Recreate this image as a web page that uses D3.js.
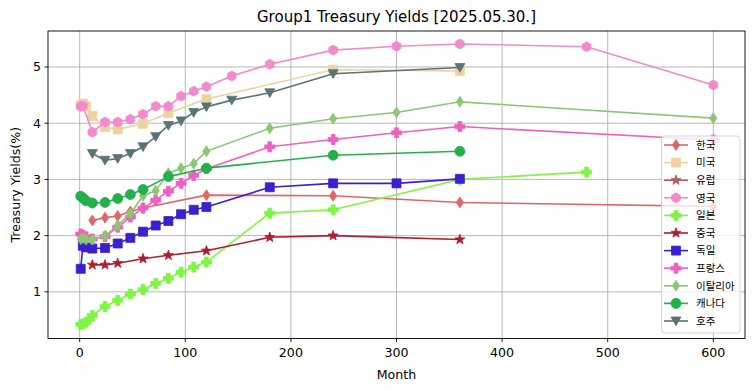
<!DOCTYPE html>
<html><head><meta charset="utf-8">
<script src="https://cdn.jsdelivr.net/npm/d3@7"></script>
<style>
body{margin:0;background:#fff}
svg{display:block}
text{font-family:"DejaVu Sans","Noto Sans CJK KR",sans-serif;fill:#000}
</style>
</head><body>
<svg id="c" width="755" height="391"></svg>
<script>
const titleText = "Group1 Treasury Yields [2025.05.30.]";
const xLabel = "Month";
const yLabel = "Treasury Yields(%)";
const xTicks = [0,100,200,300,400,500,600];
const yTicks = [1,2,3,4,5];

const seriesNames = ["한국","미국","유럽","영국","일본","중국","독일","프랑스","이탈리아","캐나다","호주"];

const krMonths = [12,24,36,48,60,120,240,360,600];
const krYields = [2.27,2.32,2.35,2.43,2.49,2.72,2.71,2.59,2.52];

const usMonths = [1,3,6,12,24,36,60,84,120,240,360];
const usYields = [4.32,4.35,4.30,4.13,3.93,3.89,3.99,4.18,4.43,4.95,4.93];

const euMonths = [];
const euYields = [];

const ukMonths = [1,3,12,24,36,48,60,72,84,96,108,120,144,180,240,300,360,480,600];
const ukYields = [4.30,4.31,3.84,4.02,4.02,4.07,4.16,4.30,4.30,4.48,4.57,4.65,4.84,5.05,5.30,5.37,5.41,5.36,4.68];

const jpMonths = [1,3,6,9,12,24,36,48,60,72,84,96,108,120,180,240,360,480];
const jpYields = [0.42,0.43,0.46,0.51,0.58,0.74,0.85,0.96,1.04,1.15,1.24,1.35,1.44,1.53,2.40,2.46,3.00,3.13];

const cnMonths = [12,24,36,60,84,120,180,240,360];
const cnYields = [1.48,1.48,1.51,1.59,1.65,1.73,1.97,2.00,1.93];

const deMonths = [1,3,6,12,24,36,48,60,72,84,96,108,120,180,240,300,360];
const deYields = [1.41,1.82,1.79,1.77,1.78,1.86,1.96,2.07,2.18,2.26,2.38,2.46,2.51,2.86,2.93,2.93,3.01];

const frMonths = [1,3,6,12,24,36,48,60,72,84,96,108,120,180,240,300,360,600];
const frYields = [2.03,2.01,1.98,1.94,1.98,2.15,2.33,2.49,2.63,2.79,2.93,3.07,3.19,3.58,3.71,3.83,3.94,3.70];

const itMonths = [1,3,6,12,24,36,48,60,72,84,96,108,120,180,240,300,360,600];
const itYields = [1.94,1.96,1.93,1.93,2.00,2.18,2.39,2.71,2.80,3.11,3.20,3.28,3.50,3.91,4.08,4.19,4.38,4.09];

const caMonths = [1,3,6,12,24,36,48,60,84,120,240,360];
const caYields = [2.70,2.67,2.62,2.58,2.59,2.66,2.73,2.82,3.05,3.20,3.43,3.50];

const auMonths = [12,24,36,48,60,72,84,96,108,120,144,180,240,360];
const auYields = [3.46,3.34,3.37,3.46,3.58,3.76,3.96,4.04,4.19,4.29,4.41,4.54,4.88,4.99];

const seriesColors = ["#e06666","#eed3a0","#b05d5d","#f28ace","#7ef542","#b01c30","#3b1fd1","#f060c0","#8bc772","#22b04b","#5a7474"];
const seriesMarkers = ["d","s","*","h","P","*","s","P","d","o","v"];
const seriesMonths = [krMonths,usMonths,euMonths,ukMonths,jpMonths,cnMonths,deMonths,frMonths,itMonths,caMonths,auMonths];
const seriesYields = [krYields,usYields,euYields,ukYields,jpYields,cnYields,deYields,frYields,itYields,caYields,auYields];

const series = seriesNames.map((n,i)=>({
  name:n, color:seriesColors[i], marker:seriesMarkers[i],
  points: seriesMonths[i].map((m,j)=>({m, v:seriesYields[i][j]}))
}));

const svg = d3.select("#c");
const L=48, R=745, T=31, B=338.5;
const x = d3.scaleLinear().domain([-30,630]).range([L,R]);
const y = d3.scaleLinear().domain([0.17,5.64]).range([B,T]);

const g = svg.append("g");
g.selectAll(".gx").data(xTicks).enter().append("line")
  .attr("x1",d=>x(d)).attr("x2",d=>x(d)).attr("y1",T).attr("y2",B)
  .attr("stroke","#b0b0b0").attr("stroke-width",0.9);
g.selectAll(".gy").data(yTicks).enter().append("line")
  .attr("y1",d=>y(d)).attr("y2",d=>y(d)).attr("x1",L).attr("x2",R)
  .attr("stroke","#b0b0b0").attr("stroke-width",0.9);

function markerPath(t, s){
  const r = s/2;
  let p;
  switch(t){
    case "o": return d3.symbol(d3.symbolCircle, Math.PI*r*r)();
    case "s": { const h=r*0.9; return `M${-h},${-h}L${h},${-h}L${h},${h}L${-h},${h}Z`; }
    case "d": return `M0,${-r*1.1}L${r*0.72},0L0,${r*1.1}L${-r*0.72},0Z`;
    case "v": return `M${-r},${-r*0.8}L${r},${-r*0.8}L0,${r*0.95}Z`;
    case "*": {
      p=[]; const ro=r*1.05, ri=ro*0.4;
      for(let k=0;k<10;k++){ const a=-Math.PI/2+k*Math.PI/5; const rr=k%2?ri:ro; p.push([rr*Math.cos(a),rr*Math.sin(a)]); }
      return "M"+p.map(q=>q.join(",")).join("L")+"Z";
    }
    case "h": {
      p=[]; for(let k=0;k<6;k++){ const a=-Math.PI/2+k*Math.PI/3; p.push([r*Math.cos(a),r*Math.sin(a)]); }
      return "M"+p.map(q=>q.join(",")).join("L")+"Z";
    }
    case "P": {
      const w=r*0.38, a=r;
      return `M${-w},${-a}L${w},${-a}L${w},${-w}L${a},${-w}L${a},${w}L${w},${w}L${w},${a}L${-w},${a}L${-w},${w}L${-a},${w}L${-a},${-w}L${-w},${-w}Z`;
    }
  }
}

const line = d3.line().x(d=>x(d.m)).y(d=>y(d.v));
const plot = svg.append("g");
series.forEach(s=>{
  if(!s.points.length) return;
  plot.append("path").attr("d",line(s.points)).attr("fill","none")
    .attr("stroke",s.color).attr("stroke-width",1.6).attr("stroke-linejoin","round");
  plot.selectAll(null).data(s.points).enter().append("path")
    .attr("d",markerPath(s.marker,10))
    .attr("transform",d=>`translate(${x(d.m)},${y(d.v)})`)
    .attr("fill",s.color).attr("stroke",s.color).attr("stroke-width",0.8);
});

svg.append("rect").attr("x",L).attr("y",T).attr("width",R-L).attr("height",B-T)
  .attr("fill","none").attr("stroke","#000").attr("stroke-width",0.9);

const xa = svg.append("g");
xTicks.forEach(t=>{
  xa.append("line").attr("x1",x(t)).attr("x2",x(t)).attr("y1",B).attr("y2",B+3.5).attr("stroke","#000").attr("stroke-width",0.9);
  xa.append("text").attr("x",x(t)).attr("y",B+18.5).attr("text-anchor","middle").attr("font-size",12.6).text(t);
});
yTicks.forEach(t=>{
  xa.append("line").attr("x1",L-3.5).attr("x2",L).attr("y1",y(t)).attr("y2",y(t)).attr("stroke","#000").attr("stroke-width",0.9);
  xa.append("text").attr("x",L-7).attr("y",y(t)+4.5).attr("text-anchor","end").attr("font-size",12.6).text(t);
});

svg.append("text").attr("x",(L+R)/2).attr("y",379).attr("text-anchor","middle").attr("font-size",12.6).text(xLabel);
svg.append("text").attr("transform",`translate(20,${(T+B)/2}) rotate(-90)`).attr("text-anchor","middle").attr("font-size",12.6).text(yLabel);
svg.append("text").attr("x",(L+R)/2).attr("y",21.5).attr("text-anchor","middle").attr("font-size",15).text(titleText);

const lg = svg.append("g");
lg.append("rect").attr("x",661.5).attr("y",136).attr("width",78.5).attr("height",197)
  .attr("rx",3).attr("fill","#fff").attr("fill-opacity",0.8).attr("stroke","#d0d0d0").attr("stroke-width",0.9);
series.forEach((s,i)=>{
  const yy = 145 + i*17.6;
  lg.append("line").attr("x1",664).attr("x2",688).attr("y1",yy).attr("y2",yy).attr("stroke",s.color).attr("stroke-width",1.6);
  lg.append("path").attr("d",markerPath(s.marker,10)).attr("transform",`translate(676,${yy})`).attr("fill",s.color).attr("stroke",s.color).attr("stroke-width",0.8);
  lg.append("text").attr("x",696).attr("y",yy+3.8).attr("font-size",10.5).text(s.name);
});
</script>
</body></html>
